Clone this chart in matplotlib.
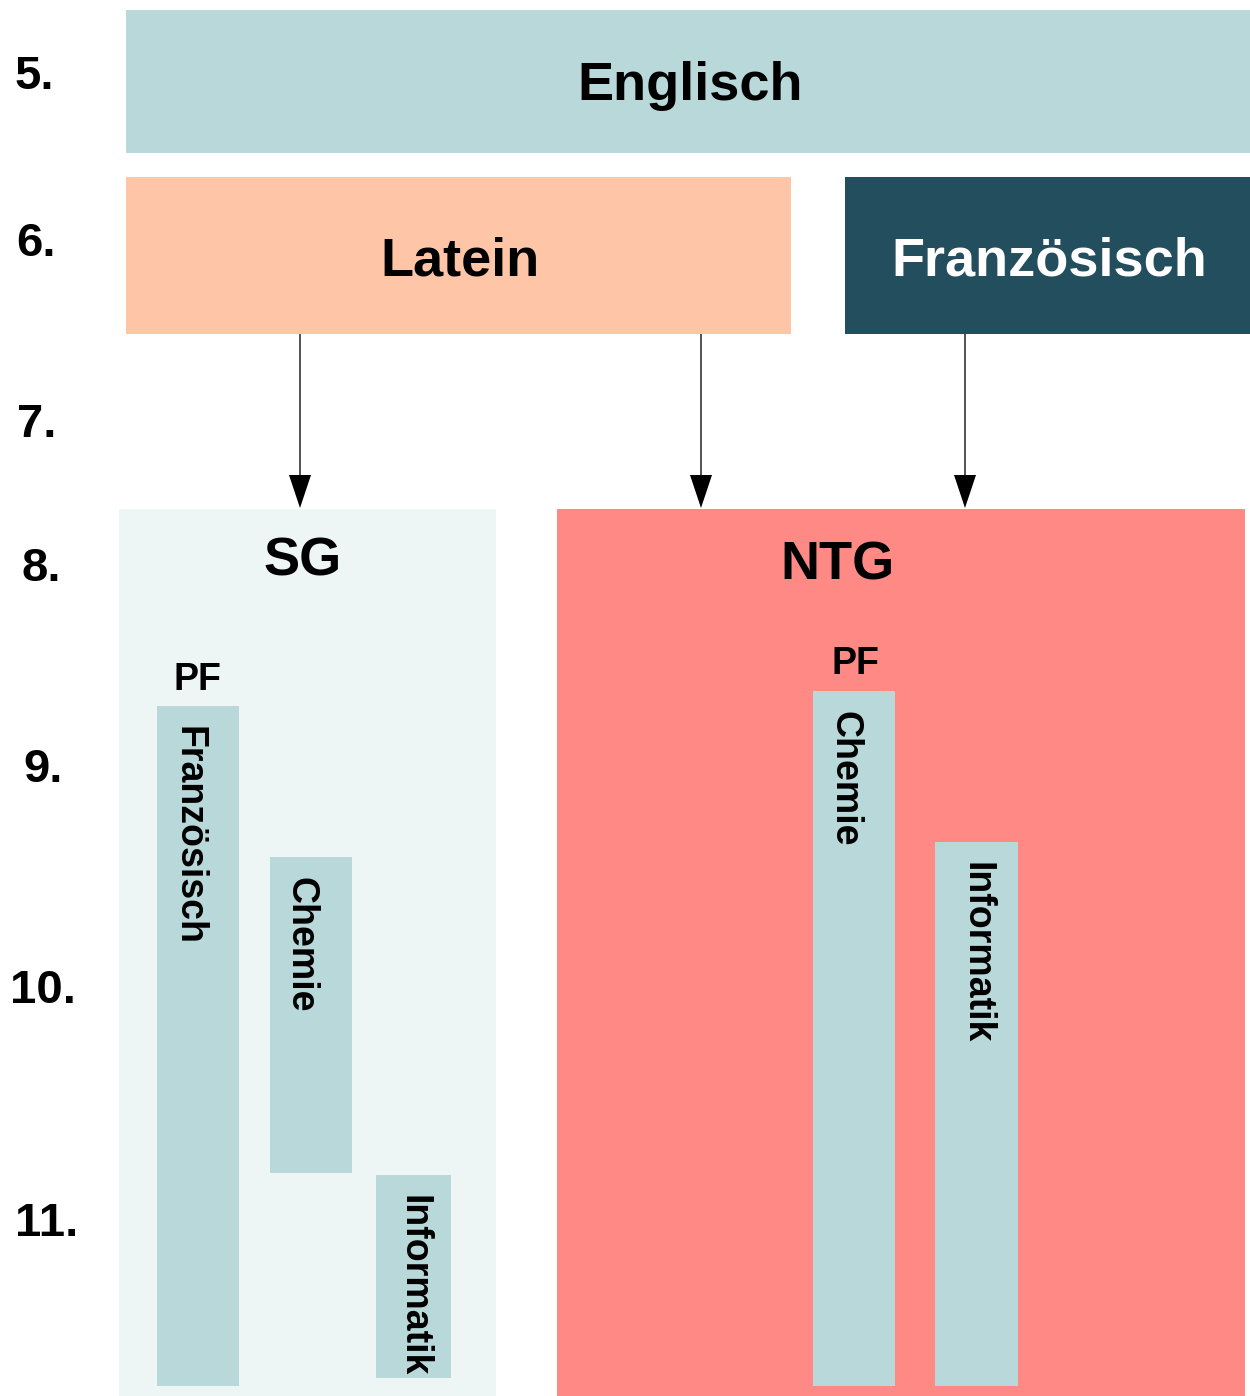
import matplotlib
matplotlib.use("Agg")
import matplotlib.pyplot as plt
from matplotlib.patches import Rectangle

plt.rcParams['font.family'] = ['Liberation Sans', 'DejaVu Sans']

# ---- content ----
grades = ["5.", "6.", "7.", "8.", "9.", "10.", "11."]
grade_label_x = [34, 36, 37, 41, 43, 43, 47]
grade_label_y = [73, 240, 421, 565, 766, 987, 1220]

# language boxes
lang_names = ["Englisch", "Latein", "Französisch"]
lang_x0 = [126, 126, 845]
lang_x1 = [1250, 791, 1250]
lang_y0 = [10, 177, 177]
lang_y1 = [153, 334, 334]
lang_color = ["#b8d8d9", "#fec5a7", "#224e5e"]
lang_tcolor = ["black", "black", "white"]
lang_text_y = [82, 257, 257]

# branch boxes
branch_names = ["SG", "NTG"]
branch_x0 = [119, 557]
branch_x1 = [496, 1245]
branch_y0 = [509, 509]
branch_y1 = [1396, 1396]
branch_color = ["#edf6f5", "#ff8a85"]
branch_text_xy = [(303, 557), (837, 562)]
pf_xy = [(197, 677), (855, 661)]

# subject bars
subj_names = ["Französisch", "Chemie", "Informatik", "Chemie", "Informatik"]
subj_x0 = [157, 270, 376, 813, 935]
subj_x1 = [239, 352, 451, 895, 1018]
subj_y0 = [706, 857, 1175, 691, 842]
subj_y1 = [1386, 1173, 1378, 1386, 1386]
subj_label_dx = [-10, -10, 0, -10, 0]
subj_color = "#b8d8d9"

# arrows
arrow_x = [300, 701, 965]
arrow_y0 = [334, 334, 334]
arrow_y1 = [508, 508, 508]

W, H = 1250, 1396
DY = 4      # optical centring of text

fig = plt.figure(figsize=(W / 100, H / 100), dpi=100)
ax = fig.add_axes([0, 0, 1, 1])
ax.set_xlim(0, W)
ax.set_ylim(H, 0)
ax.axis('off')

for g, x, y in zip(grades, grade_label_x, grade_label_y):
    ax.text(x, y + DY, g, ha='center', va='center', fontsize=34, fontweight='bold')

for n, x0, x1, y0, y1, c, tc, ty in zip(lang_names, lang_x0, lang_x1, lang_y0, lang_y1,
                                         lang_color, lang_tcolor, lang_text_y):
    ax.add_patch(Rectangle((x0, y0), x1 - x0, y1 - y0, facecolor=c, edgecolor='none'))
    ax.text((x0 + x1) / 2 + 2, ty + DY, n, ha='center', va='center', fontsize=39,
            fontweight='bold', color=tc)

for n, x0, x1, y0, y1, c, (tx, ty), (px, py) in zip(branch_names, branch_x0, branch_x1,
                                                    branch_y0, branch_y1, branch_color,
                                                    branch_text_xy, pf_xy):
    ax.add_patch(Rectangle((x0, y0), x1 - x0, y1 - y0, facecolor=c, edgecolor='none'))
    ax.text(tx, ty + DY, n, ha='center', va='center', fontsize=39, fontweight='bold')
    ax.text(px, py + 3, "PF", ha='center', va='center', fontsize=27, fontweight='bold')

for n, x0, x1, y0, y1, dx in zip(subj_names, subj_x0, subj_x1, subj_y0, subj_y1, subj_label_dx):
    ax.add_patch(Rectangle((x0, y0), x1 - x0, y1 - y0, facecolor=subj_color, edgecolor='none'))
    ax.text((x0 + x1) / 2 + dx, y0 + 20, n, ha='center', va='top', rotation=-90,
            fontsize=27, fontweight='bold')

head_len, head_half = 33, 11
for x, y0, y1 in zip(arrow_x, arrow_y0, arrow_y1):
    ax.plot([x, x], [y0, y1 - head_len], color='#444444', lw=1.3, solid_capstyle='butt')
    ax.fill([x - head_half, x + head_half, x], [y1 - head_len, y1 - head_len, y1],
            color='black', lw=0)

fig.savefig("out.png", dpi=100)
